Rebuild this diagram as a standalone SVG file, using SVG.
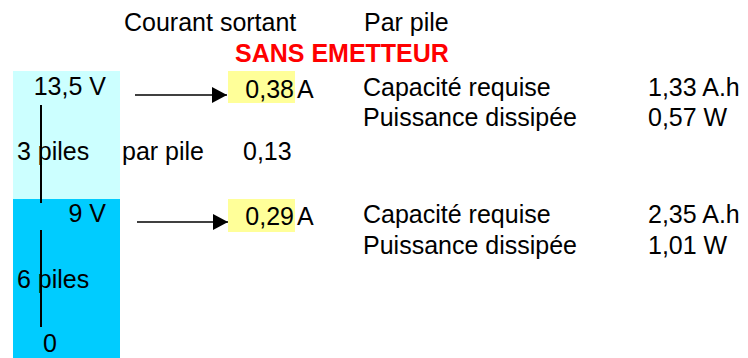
<svg xmlns="http://www.w3.org/2000/svg" width="748" height="358" viewBox="0 0 748 358">
  <style>
    text { font-family: "Liberation Sans", Arial, sans-serif; font-size: 25px; fill: #000; }
    .title { font-weight: bold; fill: #FF0000; }
    .end { text-anchor: end; }
    .hl { fill: #FFFF99; }
    .arrow { stroke: #000; stroke-width: 1.3; fill: none; }
    .bar { stroke: #000; stroke-width: 2; }
  </style>
  <defs>
    <marker id="head" viewBox="0 0 15 16" refX="15" refY="8" markerWidth="15" markerHeight="16" markerUnits="userSpaceOnUse" orient="auto">
      <path d="M0,0 L15,8 L0,16 Z" fill="#000"/>
    </marker>
  </defs>

  <rect width="748" height="358" fill="#FFFFFF"/>

  <!-- header -->
  <g id="header">
    <text x="124" y="31">Courant sortant</text>
    <text x="364" y="31">Par pile</text>
    <text class="title" x="235" y="62">SANS EMETTEUR</text>
  </g>

  <!-- upper stack: 3 cells between 13,5 V and 9 V -->
  <g id="stack-upper">
    <rect x="13" y="71" width="107" height="128" fill="#CCFFFF"/>
    <text class="end" x="106" y="95">13,5 V</text>
    <text x="17" y="160">3 piles</text>
  </g>

  <!-- lower stack: 6 cells between 9 V and 0 -->
  <g id="stack-lower">
    <rect x="13" y="199" width="107" height="159" fill="#00CCFF"/>
    <text class="end" x="106" y="222">9 V</text>
    <text x="17" y="288">6 piles</text>
    <text x="43" y="352">0</text>
  </g>

  <g id="per-cell">
    <text x="122" y="160">par pile</text>
    <text x="243" y="160">0,13</text>
  </g>

  <!-- output current, upper tap -->
  <g id="current-upper">
    <rect class="hl" x="228" y="71" width="67" height="32"/>
    <text class="end" x="294" y="98">0,38</text>
    <text x="297" y="98">A</text>
  </g>

  <!-- output current, lower tap -->
  <g id="current-lower">
    <rect class="hl" x="228" y="199" width="67" height="33"/>
    <text class="end" x="294" y="225">0,29</text>
    <text x="297" y="225">A</text>
  </g>

  <g id="results-upper">
    <text x="363" y="96">Capacité requise</text>
    <text x="648" y="96">1,33 A.h</text>
    <text x="363" y="126">Puissance dissipée</text>
    <text x="648" y="126">0,57 W</text>
  </g>

  <g id="results-lower">
    <text x="363" y="223">Capacité requise</text>
    <text x="648" y="223">2,35 A.h</text>
    <text x="363" y="254">Puissance dissipée</text>
    <text x="648" y="254">1,01 W</text>
  </g>

  <g id="connectors">
    <line class="bar" x1="41" y1="105" x2="41" y2="203"/>
    <line class="bar" x1="41" y1="230" x2="41" y2="327"/>
    <line class="arrow" x1="135" y1="95" x2="227" y2="95" marker-end="url(#head)"/>
    <line class="arrow" x1="137" y1="222" x2="228" y2="222" marker-end="url(#head)"/>
  </g>
</svg>
